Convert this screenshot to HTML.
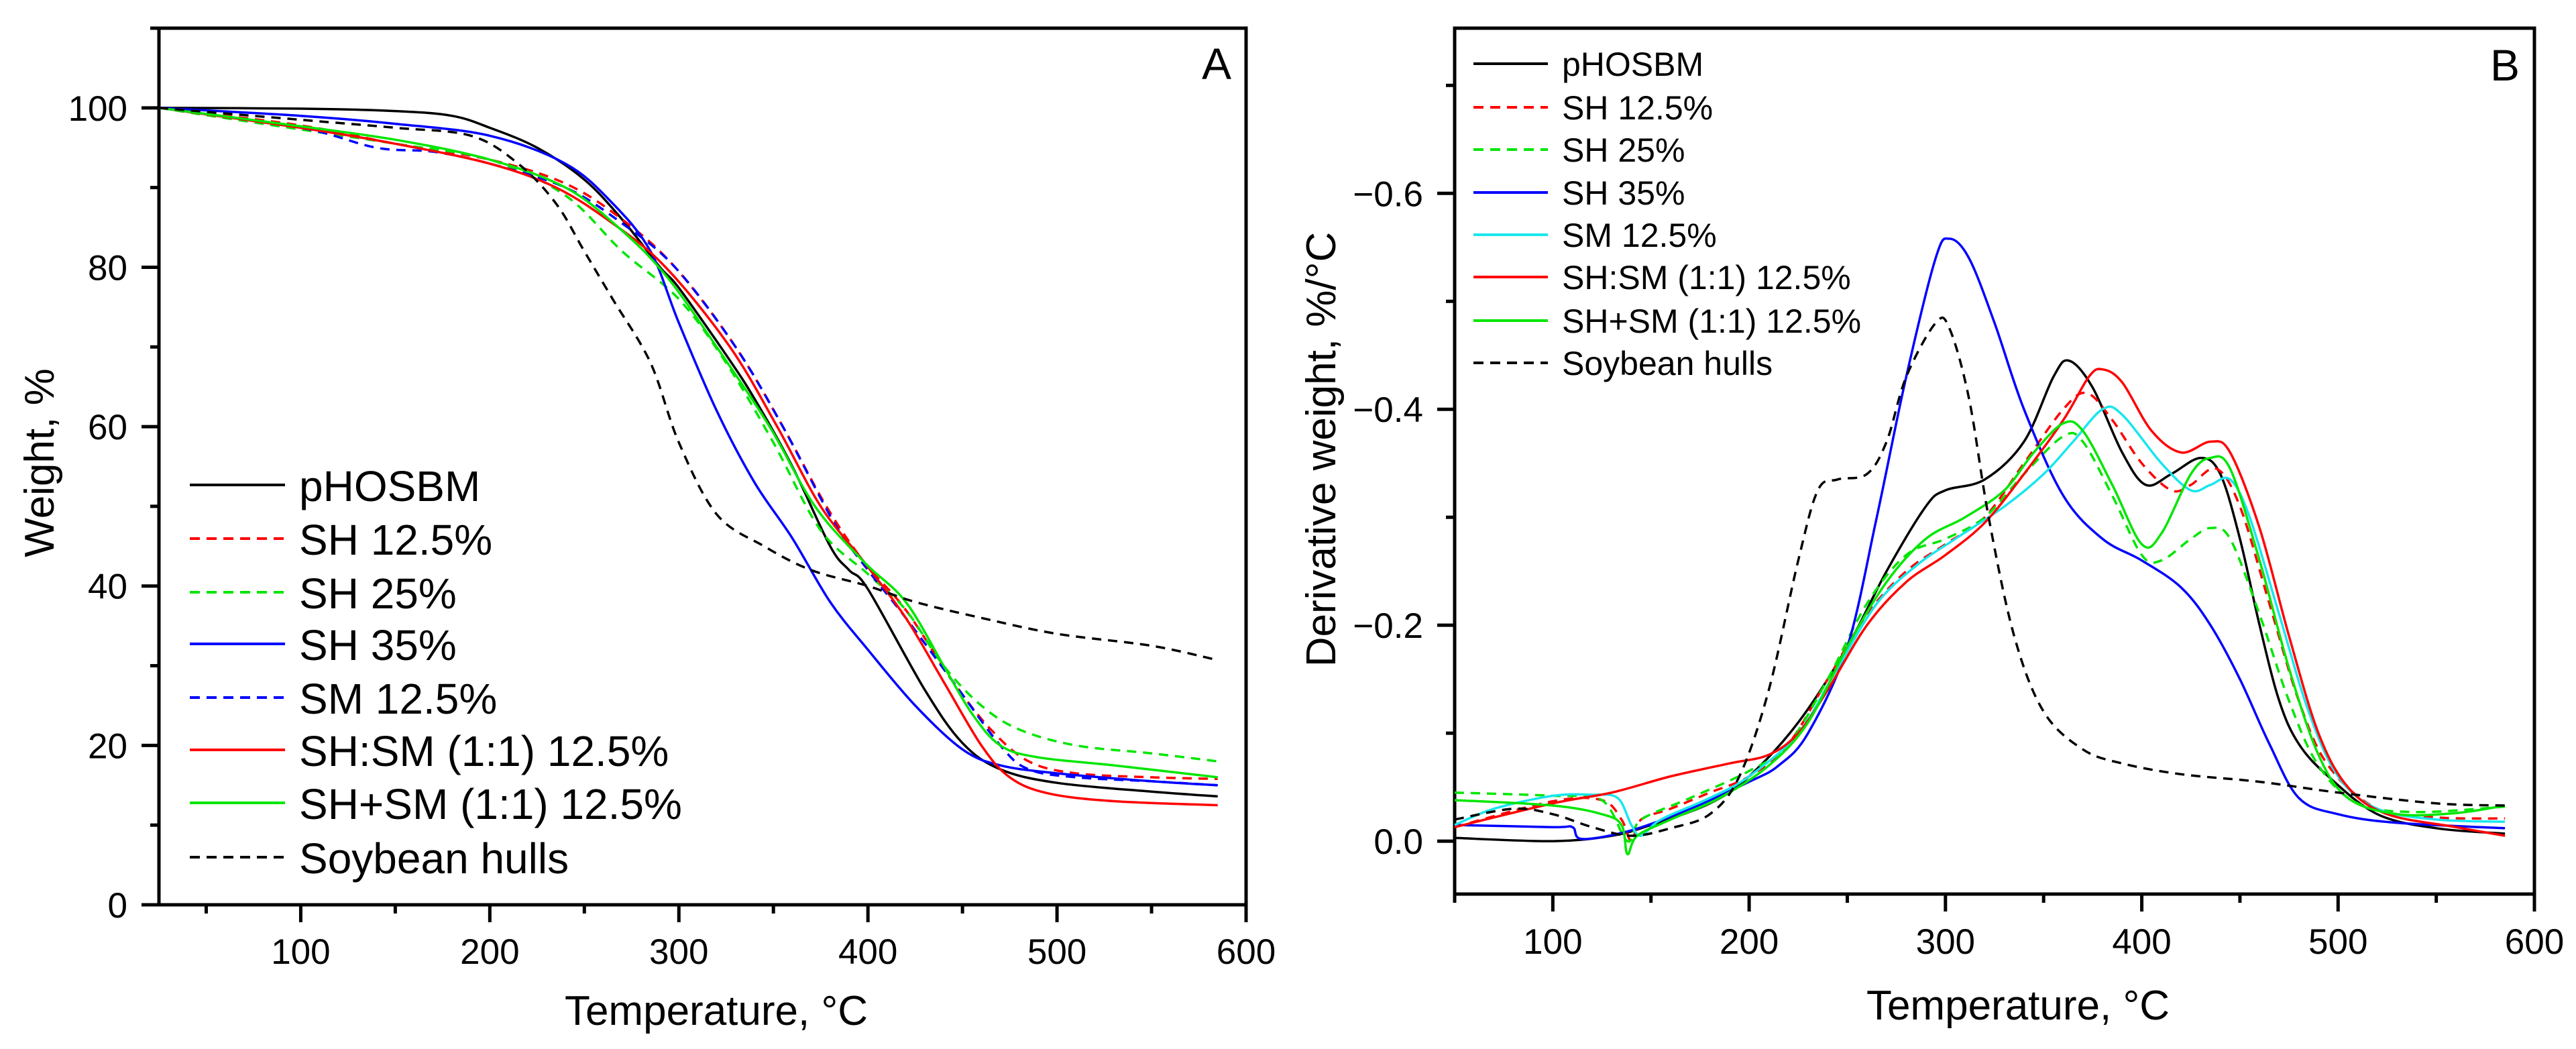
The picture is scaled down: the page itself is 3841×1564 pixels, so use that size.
<!DOCTYPE html>
<html><head><meta charset="utf-8"><style>
html,body{margin:0;padding:0;background:#fff}
svg{display:block}
text{font-family:"Liberation Sans",Arial,sans-serif;fill:#000}
</style></head><body>
<svg id="chart" width="3841" height="1564" viewBox="0 0 3841 1564" xmlns="http://www.w3.org/2000/svg">
<g id="panelA"></g>
<g id="panelB"></g>
</svg>
<script>
// ---------- Panel A data (Temperature °C, Weight %) ----------
const aPhosbmT=[25,100,150,180,200,225,250,270,290,300,325,340,360,380,390,400,430,450,470,500,550,585];
const aPhosbmW=[100,99.9,99.6,99,97.5,95,91,86,80,77.4,69,63.5,55,45,42,39.6,27,20.3,17,15.3,14.2,13.6];
const aSh125T=[25,100,150,200,240,270,298,330,355,378,398,420,445,465,485,510,550,585];
const aSh125W=[100,97.8,95.5,93.5,90.5,86,80,70,60,50,43,37,28,22,18,16.5,16,15.8];
const aSh25T=[25,80,150,200,240,270,300,325,350,375,400,420,440,460,480,510,550,585];
const aSh25W=[100,98,95.5,93.5,89,82,76,68,58,47,41.5,37,30,25,22,20,19,18];
const aSh35T=[25,100,150,200,240,265,285,300,320,340,360,380,400,425,450,470,500,550,585];
const aSh35W=[100,99,98,96.5,93,88,82,73,62,53,46,38,32,25,19.5,17.5,16.5,15.5,15];
const aSm125T=[25,100,140,170,200,240,270,298,330,355,382,400,420,445,470,485,510,550,585];
const aSm125W=[100,97.5,95,94.5,93,90,85.5,80,70,60,48,42,36,28,20,17,16,15.5,15];
const aShSmT=[25,100,150,200,235,265,293,327,352,375,398,420,440,460,475,495,530,585];
const aShSmW=[100,97.5,95.5,93,90,85.5,80,70,60,50,43,36,28,20,16,14,13,12.5];
const aShPlusSmT=[25,90,150,200,240,268,293,320,348,372,398,420,440,455,470,490,530,585];
const aShPlusSmW=[100,98,96,93.5,90,85,79,70,60,50,43,38,30,24,20,18.5,17.5,16];
const aHullsT=[25,100,150,190,215,235,250,265,285,300,320,345,370,400,425,460,500,550,585];
const aHullsW=[100,98.5,97.5,96.5,93,88,82,76,68,58,49,45,42,40,38,36,34,32.5,30.7];
const aXTicks=[100,200,300,400,500,600];
const aXTickLabels=["100","200","300","400","500","600"];
const aYTicks=[0,20,40,60,80,100];
const aYTickLabels=["0","20","40","60","80","100"];

// ---------- Panel B data (Temperature °C, -dW/dT magnitude %/°C) ----------
const bPhosbmT=[50,100,130,150,180,200,225,250,270,290,300,320,340,355,363,375,390,402,415,430,440,450,460,470,480,495,520,550,585];
const bPhosbmD=[0.003,0.0,0.005,0.015,0.035,0.06,0.11,0.18,0.25,0.31,0.325,0.335,0.37,0.43,0.445,0.42,0.36,0.33,0.34,0.355,0.34,0.28,0.2,0.13,0.09,0.06,0.025,0.012,0.007];
const bSh125T=[50,100,125,135,140,145,160,180,200,220,240,260,280,300,320,340,360,372,385,400,415,425,438,450,465,480,495,520,550,585];
const bSh125D=[0.013,0.037,0.038,0.02,0.0,0.02,0.03,0.045,0.06,0.09,0.15,0.21,0.25,0.275,0.3,0.35,0.4,0.415,0.39,0.35,0.325,0.33,0.345,0.31,0.22,0.13,0.07,0.03,0.022,0.021];
const bSh25T=[50,100,125,138,145,170,200,220,240,260,280,300,320,340,360,370,385,400,410,425,435,445,460,475,490,510,540,585];
const bSh25D=[0.045,0.042,0.038,0.0,0.02,0.04,0.065,0.09,0.15,0.22,0.265,0.28,0.3,0.34,0.375,0.37,0.32,0.265,0.26,0.28,0.29,0.28,0.21,0.13,0.07,0.035,0.027,0.032];
const bSh35T=[50,100,110,115,140,170,200,215,230,250,265,280,295,302,312,325,340,360,380,400,420,435,450,465,480,500,530,585];
const bSh35D=[0.015,0.013,0.013,0.002,0.01,0.03,0.055,0.07,0.1,0.18,0.3,0.43,0.54,0.558,0.54,0.48,0.4,0.32,0.28,0.26,0.235,0.2,0.15,0.09,0.04,0.025,0.017,0.012];
const bSm125T=[50,70,100,120,133,140,145,155,180,200,225,245,265,285,305,330,350,365,380,390,410,425,435,445,455,470,485,500,520,550,585];
const bSm125D=[0.015,0.03,0.042,0.043,0.04,0.015,0.005,0.02,0.04,0.06,0.1,0.16,0.22,0.255,0.28,0.31,0.34,0.37,0.4,0.395,0.35,0.325,0.33,0.335,0.3,0.21,0.12,0.06,0.03,0.02,0.018];
const bShSmT=[50,100,130,160,190,210,225,240,260,280,300,320,340,360,373,380,390,405,420,435,445,460,475,490,505,525,560,585];
const bShSmD=[0.013,0.035,0.045,0.06,0.072,0.08,0.1,0.14,0.2,0.24,0.265,0.295,0.34,0.39,0.43,0.437,0.425,0.38,0.36,0.37,0.36,0.29,0.19,0.1,0.05,0.025,0.013,0.005];
const bShPlusSmT=[50,100,125,135,138,143,160,185,210,230,250,270,290,310,330,345,360,370,385,400,410,425,435,445,460,475,490,505,530,560,585];
const bShPlusSmD=[0.038,0.033,0.025,0.015,-0.012,0.005,0.02,0.04,0.07,0.11,0.18,0.24,0.28,0.3,0.325,0.36,0.387,0.38,0.33,0.275,0.285,0.34,0.355,0.345,0.26,0.16,0.08,0.04,0.025,0.026,0.033];
const bHullsT=[50,80,100,120,140,160,180,195,210,225,235,245,260,270,280,295,302,312,322,335,350,370,390,420,460,500,550,585];
const bHullsD=[0.02,0.03,0.025,0.013,0.005,0.012,0.025,0.06,0.14,0.26,0.325,0.335,0.34,0.37,0.43,0.48,0.475,0.41,0.3,0.19,0.12,0.085,0.072,0.062,0.055,0.045,0.035,0.033];
const bXTicks=[100,200,300,400,500,600];
const bXTickLabels=["100","200","300","400","500","600"];
const bYTicks=[0,0.2,0.4,0.6];
const bYTickLabels=["0.0","\u22120.2","\u22120.4","\u22120.6"];

const NS="http://www.w3.org/2000/svg";
function mk(tag,parent,attrs){const e=document.createElementNS(NS,tag);for(const k in attrs)e.setAttribute(k,attrs[k]);parent.appendChild(e);return e;}
function smoothPath(pts){
  let d="M"+pts[0][0].toFixed(1)+","+pts[0][1].toFixed(1);
  for(let i=0;i<pts.length-1;i++){
    const p0=pts[Math.max(0,i-1)],p1=pts[i],p2=pts[i+1],p3=pts[Math.min(pts.length-1,i+2)];
    const c1x=p1[0]+(p2[0]-p0[0])/6,c1y=p1[1]+(p2[1]-p0[1])/6;
    const c2x=p2[0]-(p3[0]-p1[0])/6,c2y=p2[1]-(p3[1]-p1[1])/6;
    d+=" C"+c1x.toFixed(1)+","+c1y.toFixed(1)+" "+c2x.toFixed(1)+","+c2y.toFixed(1)+" "+p2[0].toFixed(1)+","+p2[1].toFixed(1);
  }
  return d;
}

// ---------- Panel A ----------
const gA=document.getElementById('panelA');
const A={l:237,r:1858,t:42,b:1349,x0:25,x1:600,y0:0,y1:110};
const xA=v=>A.l+(v-A.x0)/(A.x1-A.x0)*(A.r-A.l);
const yA=v=>A.b-(v-A.y0)/(A.y1-A.y0)*(A.b-A.t);
const frameA=mk('rect',gA,{x:A.l,y:A.t,width:A.r-A.l,height:A.b-A.t,fill:'none',stroke:'#000','stroke-width':5});


for(let v=50;v<=600;v+=50){
  const isMaj=v%100===0;
  const t=mk('line',gA,{x1:xA(v),x2:xA(v),y1:A.b,y2:A.b+(isMaj?26:13),stroke:'#000','stroke-width':5});
  
  
}
aXTicks.forEach((v,i)=>{
  const t=mk('text',gA,{x:xA(v),y:1437,'font-size':53,'text-anchor':'middle'});t.textContent=aXTickLabels[i];
  
  
});
for(let v=0;v<=110;v+=10){
  const isMaj=v%20===0;
  const t=mk('line',gA,{x1:A.l-(isMaj?26:13),x2:A.l,y1:yA(v),y2:yA(v),stroke:'#000','stroke-width':5});
  
  
}
aYTicks.forEach((v,i)=>{
  const t=mk('text',gA,{x:190,y:yA(v)+19,'font-size':53,'text-anchor':'end'});t.textContent=aYTickLabels[i];
  
  
});
const xtA=mk('text',gA,{x:1068,y:1528,'font-size':62,'text-anchor':'middle'});xtA.textContent="Temperature, \u00B0C";


const ytA=mk('text',gA,{x:0,y:0,'font-size':62,'text-anchor':'middle',transform:'translate(80,690) rotate(-90)'});ytA.textContent="Weight, %";


const plA=mk('text',gA,{x:1836,y:118,'font-size':66,'text-anchor':'end'});plA.textContent="A";



const seriesA=[
 {n:'pHOSBM',T:aPhosbmT,V:aPhosbmW,c:'#000000',d:null,key:'phosbm'},
 {n:'SH 12.5%',T:aSh125T,V:aSh125W,c:'#ff0000',d:'14 10',key:'sh-12-5'},
 {n:'SH 25%',T:aSh25T,V:aSh25W,c:'#00e600',d:'14 10',key:'sh-25'},
 {n:'SH 35%',T:aSh35T,V:aSh35W,c:'#0000ff',d:null,key:'sh-35'},
 {n:'SM 12.5%',T:aSm125T,V:aSm125W,c:'#0000ff',d:'14 10',key:'sm-12-5'},
 {n:'SH:SM (1:1) 12.5%',T:aShSmT,V:aShSmW,c:'#ff0000',d:null,key:'sh-sm-mix'},
 {n:'SH+SM (1:1) 12.5%',T:aShPlusSmT,V:aShPlusSmW,c:'#00e600',d:null,key:'sh-plus-sm'},
 {n:'Soybean hulls',T:aHullsT,V:aHullsW,c:'#000000',d:'14 10',key:'soybean-hulls'}
];
seriesA.forEach((s,i)=>{
  const pts=s.T.map((t,j)=>[xA(t),yA(s.V[j])]);
  const p=mk('path',gA,{d:smoothPath(pts),fill:'none',stroke:s.c,'stroke-width':3.5});
  if(s.d)p.setAttribute('stroke-dasharray',s.d);
  
  
  const ly=[723,803,883,960,1040,1118,1197,1278][i];
  const ll=mk('line',gA,{x1:283,x2:425,y1:ly,y2:ly,stroke:s.c,'stroke-width':4});
  if(s.d)ll.setAttribute('stroke-dasharray','15 10');
  
  
  const lt=mk('text',gA,{x:446,y:ly+24,'font-size':64});lt.textContent=s.n;
  
  
});

// ---------- Panel B ----------
const gB=document.getElementById('panelB');
const B={l:2169,r:3779,t:42,b:1333,x0:50,x1:600,y0:-0.049,y1:0.753};
const xB=v=>B.l+(v-B.x0)/(B.x1-B.x0)*(B.r-B.l);
const yB=v=>B.b-(v-B.y0)/(B.y1-B.y0)*(B.b-B.t);
const frameB=mk('rect',gB,{x:B.l,y:B.t,width:B.r-B.l,height:B.b-B.t,fill:'none',stroke:'#000','stroke-width':5});


for(let v=50;v<=600;v+=50){
  const isMaj=v%100===0;
  const t=mk('line',gB,{x1:xB(v),x2:xB(v),y1:B.b,y2:B.b+(isMaj?26:13),stroke:'#000','stroke-width':5});
  
  
}
bXTicks.forEach((v,i)=>{
  const t=mk('text',gB,{x:xB(v),y:1422,'font-size':53,'text-anchor':'middle'});t.textContent=bXTickLabels[i];
  
  
});
for(let k=0;k<=7;k++){
  const v=k*0.1;const isMaj=k%2===0;
  const t=mk('line',gB,{x1:B.l-(isMaj?26:13),x2:B.l,y1:yB(v),y2:yB(v),stroke:'#000','stroke-width':5});
  
  
}
bYTicks.forEach((v,i)=>{
  const t=mk('text',gB,{x:2122,y:yB(v)+19,'font-size':53,'text-anchor':'end'});t.textContent=bYTickLabels[i];
  
  
});
const xtB=mk('text',gB,{x:3009,y:1520,'font-size':62,'text-anchor':'middle'});xtB.textContent="Temperature, \u00B0C";


const ytB=mk('text',gB,{x:0,y:0,'font-size':62,'text-anchor':'middle',transform:'translate(1991,670) rotate(-90)'});ytB.textContent="Derivative weight,  %/\u00B0C";


const plB=mk('text',gB,{x:3757,y:120,'font-size':66,'text-anchor':'end'});plB.textContent="B";



const seriesB=[
 {n:'pHOSBM',T:bPhosbmT,V:bPhosbmD,c:'#000000',d:null,key:'phosbm'},
 {n:'SH 12.5%',T:bSh125T,V:bSh125D,c:'#ff0000',d:'14 10',key:'sh-12-5'},
 {n:'SH 25%',T:bSh25T,V:bSh25D,c:'#00e600',d:'14 10',key:'sh-25'},
 {n:'SH 35%',T:bSh35T,V:bSh35D,c:'#0000ff',d:null,key:'sh-35'},
 {n:'SM 12.5%',T:bSm125T,V:bSm125D,c:'#19e6ee',d:null,key:'sm-12-5'},
 {n:'SH:SM (1:1) 12.5%',T:bShSmT,V:bShSmD,c:'#ff0000',d:null,key:'sh-sm-mix'},
 {n:'SH+SM (1:1) 12.5%',T:bShPlusSmT,V:bShPlusSmD,c:'#00e600',d:null,key:'sh-plus-sm'},
 {n:'Soybean hulls',T:bHullsT,V:bHullsD,c:'#000000',d:'14 10',key:'soybean-hulls'}
];
seriesB.forEach((s,i)=>{
  const pts=s.T.map((t,j)=>[xB(t),yB(s.V[j])]);
  const p=mk('path',gB,{d:smoothPath(pts),fill:'none',stroke:s.c,'stroke-width':3.5});
  if(s.d)p.setAttribute('stroke-dasharray',s.d);
  
  
  const ly=[95,160,223,287,350,413,478,541][i];
  const ll=mk('line',gB,{x1:2197,x2:2308,y1:ly,y2:ly,stroke:s.c,'stroke-width':4});
  if(s.d)ll.setAttribute('stroke-dasharray','15 10');
  
  
  const lt=mk('text',gB,{x:2329,y:ly+18,'font-size':50});lt.textContent=s.n;
  
  
});
</script>
</body></html>
